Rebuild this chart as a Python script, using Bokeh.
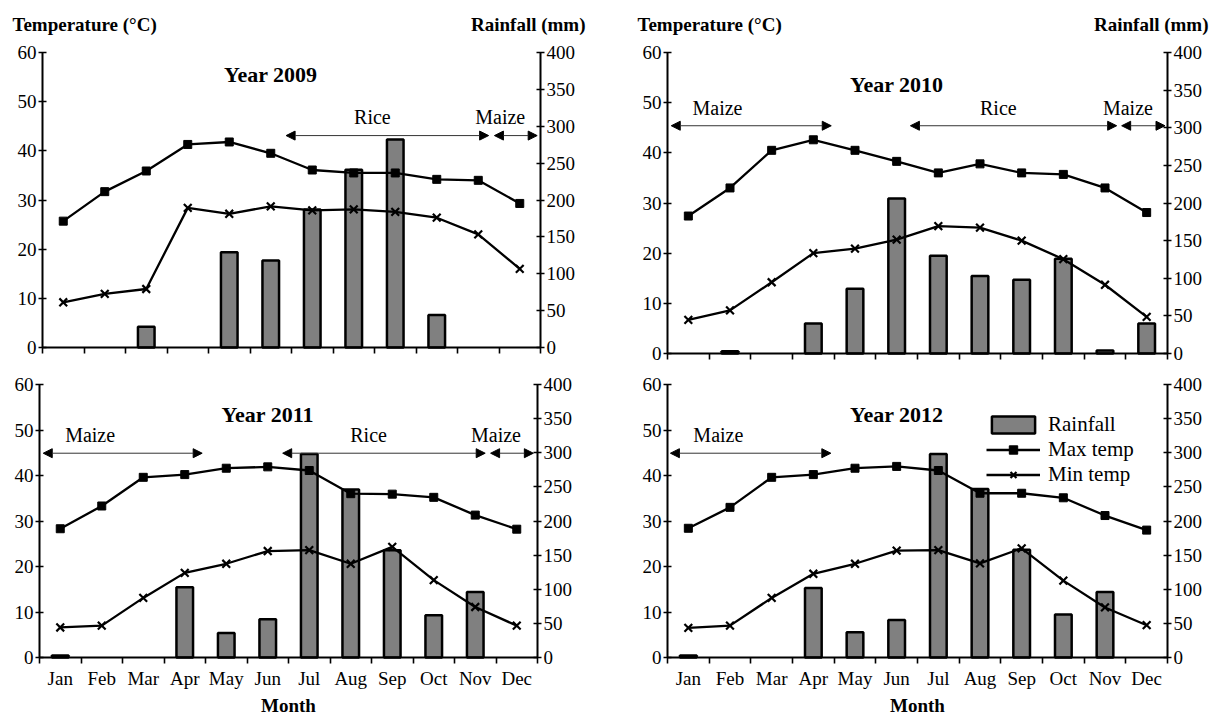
from bokeh.plotting import figure
from bokeh.models import (Range1d, LinearAxis, FixedTicker, Label, Arrow, NormalHead,
                          Legend, LegendItem)
from bokeh.layouts import column, row
from bokeh.embed import file_html
from bokeh.resources import INLINE

# ---------------- data ----------------
months = ["Jan", "Feb", "Mar", "Apr", "May", "Jun", "Jul", "Aug", "Sep", "Oct", "Nov", "Dec"]

rain_2009 = [0, 0, 28, 0, 129, 118, 187, 241, 282, 44, 0, 0]
tmax_2009 = [25.7, 31.7, 35.9, 41.3, 41.8, 39.5, 36.1, 35.5, 35.5, 34.2, 34.0, 29.3]
tmin_2009 = [9.2, 10.9, 11.9, 28.4, 27.2, 28.7, 27.9, 28.1, 27.6, 26.4, 23.0, 16.0]

rain_2010 = [0, 3, 0, 40, 86, 206, 130, 103, 98, 126, 4, 40]
tmax_2010 = [27.4, 33.0, 40.5, 42.6, 40.5, 38.3, 36.0, 37.8, 36.0, 35.7, 33.0, 28.1]
tmin_2010 = [6.7, 8.6, 14.2, 20.0, 20.9, 22.7, 25.4, 25.1, 22.5, 18.8, 13.7, 7.3]

rain_2011 = [3, 0, 0, 103, 36, 56, 298, 246, 157, 62, 96, 0]
tmax_2011 = [28.3, 33.3, 39.6, 40.2, 41.6, 41.9, 41.1, 36.0, 35.9, 35.2, 31.3, 28.2]
tmin_2011 = [6.6, 7.0, 13.1, 18.6, 20.6, 23.4, 23.6, 20.6, 24.3, 17.0, 11.1, 7.0]

rain_2012 = [3, 0, 0, 102, 37, 55, 298, 247, 158, 63, 96, 0]
tmax_2012 = [28.4, 33.0, 39.6, 40.2, 41.6, 42.0, 41.1, 36.1, 36.1, 35.1, 31.2, 28.0]
tmin_2012 = [6.5, 7.0, 13.1, 18.4, 20.6, 23.5, 23.6, 20.7, 24.0, 16.9, 11.0, 7.1]

# crop seasons: (crop, start month position, end month position, label position)
seasons_2009 = [("Rice", 5.87, 10.75, 7.95), ("Maize", 10.89, 11.92, 11.03)]
seasons_2010 = [("Maize", 0.09, 3.93, 1.20), ("Rice", 5.83, 10.78, 7.94), ("Maize", 10.90, 11.94, 11.05)]
seasons_2011 = [("Maize", 0.09, 3.92, 1.22), ("Rice", 5.86, 10.74, 7.93), ("Maize", 10.87, 11.90, 11.00)]
seasons_2012 = [("Maize", 0.07, 3.92, 1.22)]

FONT = "Liberation Serif"
T_MAX, R_MAX = 60, 400
N = len(months)


def make_panel(year, rain, tmax, tmin, seasons, arrow_y, label_y, title_y,
               fig_w, ml, mr, axis_h, extra_top, extra_bottom, show_months,
               top_labels, legend_loc=None, rlab_off=45):
    per = (fig_w - ml - mr) / N
    frame_h = axis_h + extra_top + extra_bottom
    t_per_px = T_MAX / axis_h
    r_per_px = R_MAX / axis_h
    p = figure(x_range=Range1d(-ml / per, N + mr / per),
               y_range=Range1d(-extra_bottom * t_per_px, T_MAX + extra_top * t_per_px),
               frame_width=fig_w, frame_height=frame_h,
               min_border_left=0, min_border_right=0, min_border_top=0, min_border_bottom=0,
               output_backend="svg", toolbar_location=None, title=None,
               outline_line_color=None, background_fill_color="white",
               border_fill_color="white")
    p.extra_y_ranges = {"rain": Range1d(-extra_bottom * r_per_px, R_MAX + extra_top * r_per_px)}
    p.xgrid.visible = False
    p.ygrid.visible = False

    x = [i + 0.5 for i in range(N)]
    rain_top = [v if v > 0 else float("nan") for v in rain]
    bars = p.vbar(x=x, top=rain_top, bottom=0, width=0.4, y_range_name="rain",
                  fill_color="#808080", line_color="black", line_width=2.5)
    l1 = p.line(x, tmax, line_color="black", line_width=2.3)
    m1 = p.scatter(x, tmax, marker="square", size=8, fill_color="black", line_color="black")
    l2 = p.line(x, tmin, line_color="black", line_width=2.3)
    m2 = p.scatter(x, tmin, marker="x", size=11, line_color="black", line_width=2.2)

    # x axis: ticks at month boundaries, labels at month centres
    xa = p.xaxis[0]
    xa.fixed_location = 0
    xa.bounds = (0, N)
    xa.ticker = FixedTicker(ticks=x if show_months else [], minor_ticks=list(range(N + 1)))
    xa.major_label_overrides = {xi: m for xi, m in zip(x, months)}
    xa.major_tick_in = 0
    xa.major_tick_out = 0
    xa.minor_tick_in = 0
    xa.minor_tick_out = 6
    xa.minor_tick_line_color = "black"
    xa.minor_tick_line_width = 1.6
    xa.axis_line_color = "black"
    xa.axis_line_width = 2
    xa.major_label_text_font = FONT
    xa.major_label_text_font_size = "19px"
    xa.major_label_text_color = "black"
    xa.major_label_standoff = 4 if show_months else 0
    if show_months:
        xa.axis_label = "Month"
        xa.axis_label_text_font = FONT
        xa.axis_label_text_font_size = "19px"
        xa.axis_label_text_font_style = "bold"
        xa.axis_label_text_color = "black"
        xa.axis_label_standoff = 3

    ya = p.yaxis[0]
    ya.ticker = FixedTicker(ticks=list(range(0, T_MAX + 1, 10)))
    ya.bounds = (0, T_MAX)
    ya.fixed_location = 0
    ra = LinearAxis(y_range_name="rain", ticker=FixedTicker(ticks=list(range(0, R_MAX + 1, 50))),
                    bounds=(0, R_MAX), fixed_location=N)
    p.add_layout(ra, "right")
    for ax in (ya, ra):
        ax.major_tick_in = 4
        ax.major_tick_out = 4
        ax.minor_tick_line_color = None
        ax.major_tick_line_color = "black"
        ax.major_tick_line_width = 1.6
        ax.axis_line_color = "black"
        ax.axis_line_width = 2
        ax.major_label_text_font = FONT
        ax.major_label_text_font_size = "19px"
        ax.major_label_text_color = "black"
        ax.major_label_standoff = 2

    # title
    p.add_layout(Label(x=5.5, y=title_y, text=f"Year {year}", text_align="center",
                       text_baseline="middle", text_font=FONT, text_font_size="22px",
                       text_font_style="bold", text_color="black"))
    # crop seasons
    for name, s, e, lx in seasons:
        p.add_layout(Arrow(x_start=s, y_start=arrow_y, x_end=e, y_end=arrow_y,
                           start=NormalHead(size=9, fill_color="black", line_color="black", line_width=1),
                           end=NormalHead(size=9, fill_color="black", line_color="black", line_width=1),
                           line_color="#333333", line_width=1))
        p.add_layout(Label(x=lx, y=label_y, text=name, text_align="center",
                           text_baseline="middle", text_font=FONT, text_font_size="20px",
                           text_color="black"))
    if top_labels:
        p.add_layout(Label(x=0, y=T_MAX, x_offset=-30, y_offset=28, text="Temperature (°C)",
                           text_align="left", text_baseline="middle", text_font=FONT,
                           text_font_size="19px", text_font_style="bold", text_color="black"))
        p.add_layout(Label(x=N, y=T_MAX, x_offset=rlab_off, y_offset=28, text="Rainfall (mm)",
                           text_align="right", text_baseline="middle", text_font=FONT,
                           text_font_size="19px", text_font_style="bold", text_color="black"))
    if legend_loc is not None:
        lg = Legend(items=[LegendItem(label="Rainfall", renderers=[bars]),
                           LegendItem(label="Max temp", renderers=[l1, m1]),
                           LegendItem(label="Min temp", renderers=[l2, m2])],
                    location=legend_loc, glyph_width=54, glyph_height=21, label_height=21,
                    label_standoff=8, label_text_font=FONT, label_text_font_size="21px",
                    label_text_color="black", padding=0, margin=0, spacing=-1,
                    border_line_color=None, background_fill_alpha=0)
        p.add_layout(lg)
    return p


p1 = make_panel(2009, rain_2009, tmax_2009, tmin_2009, seasons_2009, 43.1, 46.9, 55.6,
                612, 42, 72, 295, 52, 19, False, True, rlab_off=45)
p2 = make_panel(2010, rain_2010, tmax_2010, tmin_2010, seasons_2010, 45.4, 49.0, 53.6,
                598, 55, 43, 301, 52, 13, False, True, rlab_off=41)
p3 = make_panel(2011, rain_2011, tmax_2011, tmin_2011, seasons_2011, 44.9, 49.0, 53.5,
                612, 39, 75, 273, 18, 59, True, False)
p4 = make_panel(2012, rain_2012, tmax_2012, tmin_2012, seasons_2012, 44.9, 48.8, 53.5,
                598, 55, 43, 273, 18, 59, True, False, legend_loc=(374, 229))

layout = column(row(p1, p2), row(p3, p4))
open("out.html", "w").write(file_html(layout, INLINE))
